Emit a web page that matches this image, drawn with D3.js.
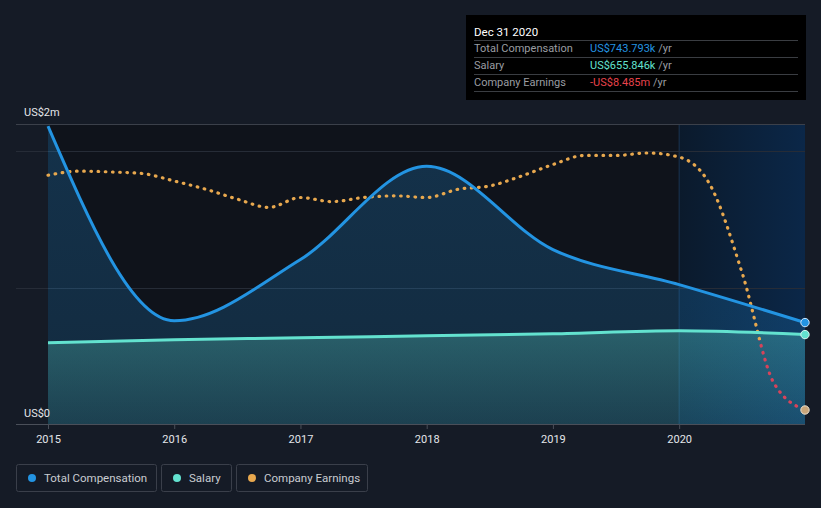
<!DOCTYPE html>
<html><head><meta charset="utf-8">
<script src="https://cdn.jsdelivr.net/npm/d3@7"></script>
<style>
html,body{margin:0;padding:0;background:#151b26;}
svg{display:block;font-family:Roboto,"Noto Sans",sans-serif;}
</style></head>
<body><svg id="c" width="821" height="508"></svg>
<script>
// ---- data ----
const compYears = [2015, 2016, 2017, 2018, 2019, 2020, 2020.997];
const totalComp = [2.184, 0.757, 1.206, 1.890, 1.279, 1.022, 0.743793]; // US$m
const salary    = [0.596, 0.618, 0.632, 0.647, 0.662, 0.684, 0.655846]; // US$m
const earnYears = [2015, 2015.25, 2015.5, 2015.75, 2016, 2016.25, 2016.5, 2016.75,
                   2017, 2017.25, 2017.5, 2017.75, 2018, 2018.25, 2018.5, 2018.75,
                   2019, 2019.25, 2019.5, 2019.75, 2020, 2020.25, 2020.5, 2020.75, 2020.997];
const earnings  = [20.0, 20.5, 20.4, 20.2, 19.3, 18.3, 17.1, 16.1,
                   17.3, 16.8, 17.3, 17.5, 17.3, 18.3, 18.7, 19.9,
                   21.3, 22.4, 22.4, 22.7, 22.2, 18.7, 8.1, -5.2, -8.485]; // US$m
const tickYears = [2015, 2016, 2017, 2018, 2019, 2020];
const yLabels = ["US$0", "US$2m"];
const legendItems = ["Total Compensation", "Salary", "Company Earnings"];
const tooltipTitle = "Dec 31 2020";
const tooltipRows = [
  {label:"Total Compensation", value:"US$743.793k"},
  {label:"Salary", value:"US$655.846k"},
  {label:"Company Earnings", value:"-US$8.485m"}
];

// ---- layout ----
const svg = d3.select("#c");
const pLeft = 16, pRight = 805, pTop = 124, pBottom = 424;
const x = d3.scaleLinear().domain([2015, 2020.997]).range([48, 805]);
const y = d3.scaleLinear().domain([0, 2.2]).range([pBottom, pTop]);
const yE = d3.scaleLinear().domain([-8.485, 22.7]).range([410, 153]);

const colBlue = "#2394e2", colTeal = "#63e2cf", colOrange = "#e8a84e", colRed = "#d6435a";

const defs = svg.append("defs");
const hl = defs.append("linearGradient").attr("id","hl").attr("x1",0).attr("x2",1).attr("y1",0).attr("y2",0);
hl.append("stop").attr("offset",0).attr("stop-color","#0b1a2c");
hl.append("stop").attr("offset",1).attr("stop-color","#0b2748");
const sg = defs.append("linearGradient").attr("id","sg").attr("x1",0).attr("x2",0).attr("y1",0).attr("y2",1);
sg.append("stop").attr("offset",0).attr("stop-color",colTeal).attr("stop-opacity",0.28);
sg.append("stop").attr("offset",1).attr("stop-color",colTeal).attr("stop-opacity",0.12);
const bg = defs.append("linearGradient").attr("id","bg").attr("x1",0).attr("x2",0).attr("y1",0).attr("y2",1);
bg.append("stop").attr("offset",0).attr("stop-color",colBlue).attr("stop-opacity",0.24);
bg.append("stop").attr("offset",1).attr("stop-color",colBlue).attr("stop-opacity",0.18);

const eMax = d3.max(earnings), eMin = d3.min(earnings);
const zeroOff = (yE(0) - yE(eMax)) / (yE(eMin) - yE(eMax));
const eg = defs.append("linearGradient").attr("id","eg").attr("gradientUnits","userSpaceOnUse")
  .attr("x1",0).attr("x2",0).attr("y1",yE(eMax)).attr("y2",yE(eMin));
eg.append("stop").attr("offset",zeroOff).attr("stop-color",colOrange);
eg.append("stop").attr("offset",zeroOff).attr("stop-color",colRed);

// plot backgrounds
svg.append("rect").attr("x",x(2015)).attr("y",pTop).attr("width",x(2020)-x(2015)).attr("height",pBottom-pTop).attr("fill","#0f131b");
svg.append("rect").attr("x",x(2020)).attr("y",pTop).attr("width",pRight-x(2020)).attr("height",pBottom-pTop).attr("fill","url(#hl)");
svg.append("line").attr("x1",x(2020)).attr("x2",x(2020)).attr("y1",pTop).attr("y2",pBottom).attr("stroke","#1a3350").attr("stroke-width",1);

// gridlines
svg.selectAll(".grid").data([1,2]).join("line")
  .attr("x1",pLeft).attr("x2",pRight).attr("y1",d=>Math.round(y(d))+0.5).attr("y2",d=>Math.round(y(d))+0.5)
  .attr("stroke","#262c37").attr("stroke-width",1);
svg.append("line").attr("x1",pLeft).attr("x2",pRight).attr("y1",pTop+0.5).attr("y2",pTop+0.5).attr("stroke","#3b404a");

const compData = compYears.map((t,i)=>({t, v: totalComp[i]}));
const salData = compYears.map((t,i)=>({t, v: salary[i]}));
const earnData = earnYears.map((t,i)=>({t, v: earnings[i]}));

const curve = d3.curveMonotoneX;
svg.append("path").datum(compData)
  .attr("d", d3.area().x(d=>x(d.t)).y0(pBottom).y1(d=>y(d.v)).curve(curve))
  .attr("fill","url(#bg)");
svg.append("path").datum(salData)
  .attr("d", d3.area().x(d=>x(d.t)).y0(pBottom).y1(d=>y(d.v)).curve(curve))
  .attr("fill","url(#sg)");

svg.append("path").datum(earnData)
  .attr("d", d3.line().x(d=>x(d.t)).y(d=>yE(d.v)).curve(curve))
  .attr("fill","none").attr("stroke","url(#eg)").attr("stroke-width",3.2)
  .attr("stroke-linecap","round").attr("stroke-dasharray","0.6 6.6");

svg.append("path").datum(salData)
  .attr("d", d3.line().x(d=>x(d.t)).y(d=>y(d.v)).curve(curve))
  .attr("fill","none").attr("stroke",colTeal).attr("stroke-width",3);
svg.append("path").datum(compData)
  .attr("d", d3.line().x(d=>x(d.t)).y(d=>y(d.v)).curve(curve))
  .attr("fill","none").attr("stroke",colBlue).attr("stroke-width",3);

// end markers
const last = compYears.length-1;
svg.append("circle").attr("cx",x(compYears[last])).attr("cy",yE(earnings[earnings.length-1])).attr("r",4.2).attr("fill","#c9a67a").attr("stroke","#e8e0d0").attr("stroke-width",1);
svg.append("circle").attr("cx",x(compYears[last])).attr("cy",y(salary[last])).attr("r",4.2).attr("fill",colTeal).attr("stroke","#d8f6f0").attr("stroke-width",1);
svg.append("circle").attr("cx",x(compYears[last])).attr("cy",y(totalComp[last])).attr("r",4.2).attr("fill",colBlue).attr("stroke","#cfe6fa").attr("stroke-width",1);

// x axis
svg.append("line").attr("x1",pLeft).attr("x2",pRight).attr("y1",pBottom+0.5).attr("y2",pBottom+0.5).attr("stroke","#4a4f59");
const xa = svg.append("g").attr("transform",`translate(0,${pBottom})`)
  .call(d3.axisBottom(x).tickValues(tickYears).tickFormat(d3.format("d")).tickSize(5).tickPadding(6));
xa.select(".domain").remove();
xa.selectAll(".tick line").attr("stroke","#4a4f59");
xa.selectAll(".tick text").attr("fill","#e4e6ea").attr("font-size",11).attr("font-family","Roboto,sans-serif");

// y labels
svg.selectAll(".ylab").data(yLabels).join("text")
  .attr("x",24).attr("y",(d,i)=> i===0 ? y(0)-7 : pTop-8)
  .attr("fill","#e4e6ea").attr("font-size",11).text(d=>d);

// tooltip
const tt = svg.append("g");
tt.append("rect").attr("x",466).attr("y",15).attr("width",340).attr("height",85).attr("fill","#000");
tt.append("text").attr("x",474).attr("y",36).attr("fill","#fff").attr("font-size",11.5).text(tooltipTitle);
[40,57,74,91].forEach(yy=>tt.append("line").attr("x1",474).attr("x2",798).attr("y1",yy+0.5).attr("y2",yy+0.5).attr("stroke","#3a3d42"));
const valCols = [colBlue, colTeal, "#e8434c"];
tooltipRows.forEach((r,i)=>{
  const yy = 52 + i*17;
  tt.append("text").attr("x",474).attr("y",yy).attr("fill","#9a9da2").attr("font-size",11).text(r.label);
  const t = tt.append("text").attr("x",590).attr("y",yy).attr("font-size",11);
  t.append("tspan").attr("fill",valCols[i]).text(r.value);
  t.append("tspan").attr("fill","#9a9da2").text(" /yr");
});

// legend
const legCols = [colBlue, colTeal, colOrange];
const legX = [16, 161, 236], legW = [140, 70, 131];
legendItems.forEach((name,i)=>{
  const g = svg.append("g").attr("transform",`translate(${legX[i]},464)`);
  g.append("rect").attr("x",0.5).attr("y",0.5).attr("width",legW[i]).attr("height",27).attr("rx",2)
    .attr("fill","none").attr("stroke","#3a3f4a");
  g.append("circle").attr("cx",16).attr("cy",14).attr("r",4).attr("fill",legCols[i]);
  g.append("text").attr("x",28).attr("y",18).attr("fill","#c9ccd1").attr("font-size",11.5).text(name);
});
</script></body></html>
